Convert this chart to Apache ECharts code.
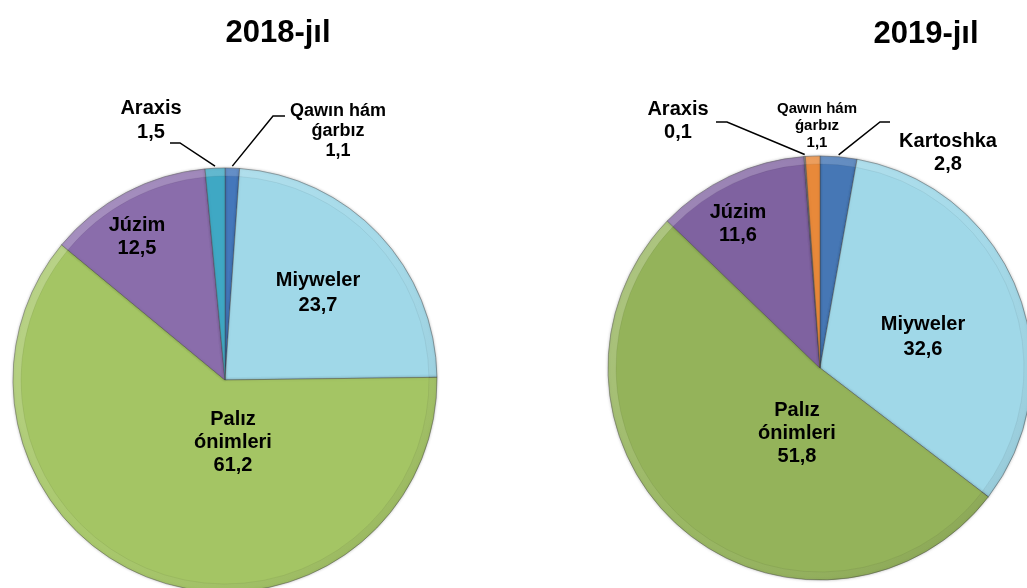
<!DOCTYPE html>
<html>
<head>
<meta charset="utf-8">
<script src="https://cdn.jsdelivr.net/npm/echarts@6/dist/echarts.min.js"></script>
<style>
html,body{margin:0;padding:0;background:#fff;}
#chart{width:1027px;height:588px;}
</style>
</head>
<body>
<div id="chart"></div>
<script>
// ---- data ----
const titles = ['2018-jıl', '2019-jıl'];
const categories2018 = ['Qawın hám\nǵarbız', 'Miyweler', 'Palız\nónimleri', 'Júzim', 'Araxis'];
const values2018 = [1.1, 23.7, 61.2, 12.5, 1.5];
const categories2019 = ['Kartoshka', 'Miyweler', 'Palız\nónimleri', 'Júzim', 'Araxis', 'Qawın hám\nǵarbız'];
const values2019 = [2.8, 32.6, 51.8, 11.6, 0.1, 1.1];

// ---- styles ----
const colorMap2018 = {
  'Qawın hám\nǵarbız': '#4477BB',
  'Miyweler': '#A0D8E8',
  'Palız\nónimleri': '#A4C564',
  'Júzim': '#8A6DAB',
  'Araxis': '#3FA8C4'
};
const colorMap2019 = {
  'Kartoshka': '#4677B5',
  'Miyweler': '#A0D8E8',
  'Palız\nónimleri': '#94B35A',
  'Júzim': '#7F62A0',
  'Araxis': '#8A8A8A',
  'Qawın hám\nǵarbız': '#E8893A'
};
// label placement (pixels) per slice
const labelPos2018 = {
  'Qawın hám\nǵarbız': { x: 338, y: 131, fs: 18, lh: 20, line: [[273, 116], [285, 116]] },
  'Miyweler': { x: 318, y: 293, fs: 20, lh: 25 },
  'Palız\nónimleri': { x: 233, y: 442, fs: 20, lh: 23 },
  'Júzim': { x: 137, y: 237, fs: 20, lh: 23 },
  'Araxis': { x: 151, y: 120, fs: 20, lh: 24, line: [[180, 143], [170, 143]] }
};
const labelPos2019 = {
  'Kartoshka': { x: 948, y: 153, fs: 20, lh: 23, line: [[880, 122], [890, 122]] },
  'Miyweler': { x: 923, y: 337, fs: 20, lh: 25 },
  'Palız\nónimleri': { x: 797, y: 433, fs: 20, lh: 23 },
  'Júzim': { x: 738, y: 224, fs: 20, lh: 23 },
  'Araxis': { x: 678, y: 121, fs: 20, lh: 23, line: [[727, 122], [716, 122]] },
  'Qawın hám\nǵarbız': { x: 817, y: 126, fs: 15, lh: 17 }
};
const R = 212;

function fmtVal(v) { return String(v).replace('.', ','); }

function buildData(cats, vals, colors, pos) {
  return cats.map((c, i) => {
    const p = pos[c];
    const outside = !!p.line || p.fs < 18;
    return {
      name: c,
      value: vals[i],
      itemStyle: { color: colors[c] },
      label: {
        show: true,
        position: outside ? 'outside' : 'inside',
        fontSize: p.fs,
        lineHeight: p.lh
      },
      labelLine: { show: !!p.line, length: 5, length2: 5, lineStyle: { color: '#000', width: 1.5 } }
    };
  });
}

function makeLayout(cats, pos) {
  return function (params) {
    const p = pos[cats[params.dataIndex]];
    const res = { x: p.x, y: p.y, align: 'center', verticalAlign: 'middle' };
    if (p.line && params.labelLinePoints) {
      const s = params.labelLinePoints[0];
      res.labelLinePoints = [[s[0], s[1] - 2], p.line[0], p.line[1]];
    }
    return res;
  };
}

function pieSeries(cats, vals, colors, pos, center) {
  return {
    type: 'pie',
    center: center,
    radius: R,
    startAngle: 90,
    clockwise: true,
    avoidLabelOverlap: false,
    animation: false,
    data: buildData(cats, vals, colors, pos),
    itemStyle: {
      borderColor: 'rgba(70,70,70,0.4)',
      borderWidth: 1,
      shadowBlur: 3,
      shadowColor: 'rgba(0,0,0,0.25)'
    },
    label: {
      color: '#000',
      fontFamily: 'Liberation Sans, Arial, sans-serif',
      fontWeight: 'bold',
      align: 'center',
      formatter: (d) => d.name + '\n' + fmtVal(d.value)
    },
    labelLayout: makeLayout(cats, pos),
    emphasis: { disabled: true }
  };
}

function bevelSeries(cats, vals, center) {
  const grad = new echarts.graphic.LinearGradient(0, 0, 1, 1, [
    { offset: 0, color: 'rgba(255,255,255,0.30)' },
    { offset: 0.5, color: 'rgba(255,255,255,0.06)' },
    { offset: 1, color: 'rgba(0,0,0,0.10)' }
  ], false);
  grad.global = true;
  grad.x = center[0] - R; grad.y = center[1] - R;
  grad.x2 = center[0] + R; grad.y2 = center[1] + R;
  return {
    type: 'pie',
    center: center,
    radius: [R - 8, R],
    startAngle: 90,
    silent: true,
    animation: false,
    label: { show: false },
    labelLine: { show: false },
    data: cats.map((c, i) => ({ name: c, value: vals[i] })),
    itemStyle: {
      color: grad,
      borderColor: 'rgba(0,0,0,0.06)',
      borderWidth: 1
    },
    emphasis: { disabled: true }
  };
}

const chart = echarts.init(document.getElementById('chart'), null, { renderer: 'canvas' });
chart.setOption({
  backgroundColor: '#ffffff',
  title: [
    { text: titles[0], left: 273, top: 13, textAlign: 'center',
      textStyle: { fontFamily: 'Liberation Sans, Arial, sans-serif', fontWeight: 'bold', fontSize: 31, color: '#000' } },
    { text: titles[1], left: 921, top: 14, textAlign: 'center',
      textStyle: { fontFamily: 'Liberation Sans, Arial, sans-serif', fontWeight: 'bold', fontSize: 31, color: '#000' } }
  ],
  series: [
    pieSeries(categories2018, values2018, colorMap2018, labelPos2018, [225, 380]),
    bevelSeries(categories2018, values2018, [225, 380]),
    pieSeries(categories2019, values2019, colorMap2019, labelPos2019, [820, 368]),
    bevelSeries(categories2019, values2019, [820, 368])
  ]
});
</script>
</body>
</html>
